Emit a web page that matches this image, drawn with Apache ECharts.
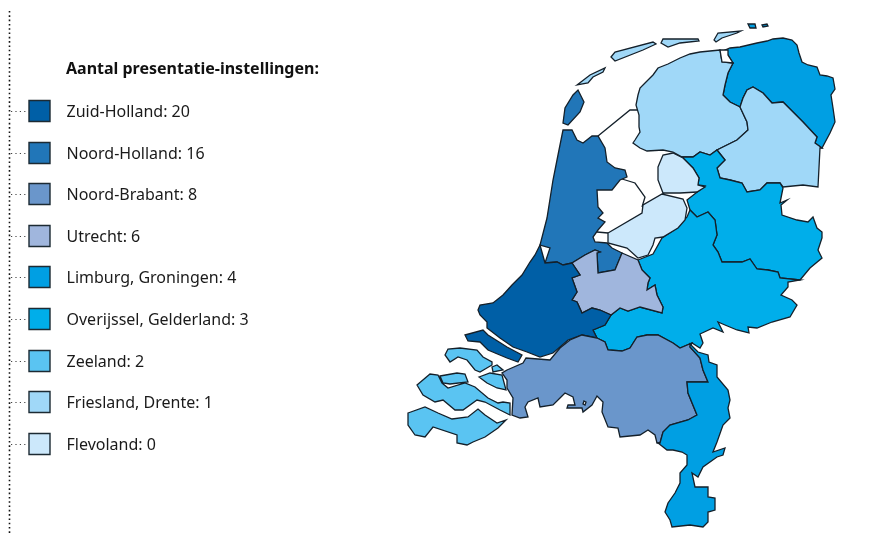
<!DOCTYPE html>
<html>
<head>
<meta charset="utf-8">
<style>
  html, body { margin: 0; padding: 0; background: #fff; }
  #chart { width: 875px; height: 535px; }
</style>
<script src="https://cdn.jsdelivr.net/npm/echarts@6/dist/echarts.min.js"></script>
</head>
<body>
<div id="chart"></div>
<script>
// aantal presentatie-instellingen per provincie
const provinces = ['Zuid-Holland', 'Noord-Holland', 'Noord-Brabant', 'Utrecht', 'Limburg', 'Groningen', 'Overijssel', 'Gelderland', 'Zeeland', 'Friesland', 'Drente', 'Flevoland'];
const counts = [20, 16, 8, 6, 4, 4, 3, 3, 2, 1, 1, 0];

// legenda
const legendNames = ['Zuid-Holland', 'Noord-Holland', 'Noord-Brabant', 'Utrecht', 'Limburg, Groningen', 'Overijssel, Gelderland', 'Zeeland', 'Friesland, Drente', 'Flevoland'];
const legendValues = [20, 16, 8, 6, 4, 3, 2, 1, 0];
const legendColors = ['#005fa6', '#2176b8', '#6a96cb', '#a0b6dd', '#009fe3', '#00aeea', '#5ac4f2', '#a0d8f8', '#cce8fb'];

// provincie-omtrekken, met de hand overgetrokken (eigen coordinaten, y loopt omlaag)
const outlines = {
  'Groningen': [
    [[725,50],[730,48],[740,47],[757,43],[767,41],[773,39],[783,38],[792,40],[797,45],[799,53],[802,62],[808,65],[817,67],[820,75],[827,76],[833,78],[835,89],[831,95],[833,108],[835,122],[830,133],[822,148],[815,143],[817,137],[803,122],[783,102],[772,103],[763,93],[753,87],[747,90],[743,98],[740,107],[730,102],[723,95],[725,85],[728,73],[733,63],[728,55]],
    [[762,25],[767,24],[768,26],[763,27]],
    [[748,24],[755,24],[756,28],[750,28]]
  ],
  'Friesland': [
    [[720,50],[710,51],[700,52],[690,54],[680,58],[668,64],[658,68],[653,75],[646,82],[640,88],[638,95],[636,105],[639,115],[639,127],[640,132],[635,140],[633,143],[640,148],[647,151],[663,150],[673,152],[682,157],[693,157],[700,152],[710,155],[717,150],[737,140],[748,130],[747,122],[740,107],[730,102],[723,95],[725,85],[728,73],[733,63],[722,62]],
    [[577,85],[590,75],[605,68],[603,72],[593,77],[588,83]],
    [[611,57],[615,52],[653,42],[656,44],[643,50],[615,61]],
    [[661,43],[663,39],[698,39],[699,41],[680,43],[668,47]],
    [[714,40],[718,33],[741,31],[737,33],[722,38],[716,42]]
  ],
  'Drente': [
    [[753,87],[763,93],[772,103],[783,102],[803,122],[817,137],[815,143],[822,148],[820,148],[818,187],[803,185],[783,187],[780,183],[767,183],[760,190],[747,192],[742,183],[730,180],[720,178],[717,168],[725,160],[717,150],[737,140],[748,130],[747,122],[740,107],[743,98],[747,90]]
  ],
  'Overijssel': [
    [[682,157],[693,157],[700,152],[710,155],[717,150],[725,160],[717,168],[720,178],[730,180],[742,183],[747,192],[760,190],[767,183],[780,183],[783,188],[780,203],[787,200],[781,205],[782,215],[797,220],[808,222],[813,217],[817,228],[822,232],[822,238],[818,250],[822,258],[810,268],[800,280],[780,278],[778,272],[768,270],[757,269],[750,259],[742,262],[722,262],[718,252],[713,245],[717,235],[715,220],[708,212],[697,217],[690,210],[687,200],[705,186],[698,185],[699,178],[693,168]]
  ],
  'Gelderland': [
    [[690,210],[697,217],[708,212],[715,220],[717,235],[713,245],[718,252],[722,262],[742,262],[750,259],[757,269],[768,270],[778,272],[780,278],[800,280],[788,282],[788,287],[781,295],[792,300],[797,305],[790,317],[772,322],[757,328],[748,327],[749,333],[737,330],[725,325],[718,322],[723,332],[713,328],[700,334],[703,343],[700,348],[692,343],[680,348],[673,343],[658,335],[647,335],[637,337],[630,348],[622,351],[608,350],[605,342],[597,338],[593,330],[605,325],[611,315],[620,308],[628,311],[640,307],[662,313],[663,307],[657,295],[655,285],[647,290],[648,283],[650,278],[642,270],[638,260],[653,254],[662,238],[677,228],[687,217]]
  ],
  'Flevoland': [
    [[658,167],[663,155],[673,153],[683,158],[693,168],[699,178],[698,185],[705,187],[697,192],[680,193],[663,193],[658,180]],
    [[608,233],[642,213],[643,205],[662,194],[683,199],[687,208],[685,220],[678,228],[663,237],[655,238],[653,245],[648,255],[638,258],[627,248],[608,243]]
  ],
  'Noord-Holland': [
    [[563,130],[572,130],[577,140],[583,143],[592,136],[598,136],[605,148],[607,162],[615,168],[625,170],[627,177],[620,180],[612,190],[597,190],[598,207],[603,213],[598,218],[605,222],[598,230],[593,237],[595,242],[607,243],[612,248],[622,253],[615,270],[598,273],[597,253],[600,252],[595,250],[585,255],[572,263],[563,265],[557,262],[545,263],[550,248],[540,245],[547,218],[553,180],[558,155]],
    [[578,90],[584,102],[580,112],[568,125],[563,123],[565,108],[573,95]]
  ],
  'Utrecht': [
    [[622,253],[638,260],[642,270],[650,278],[648,283],[647,290],[655,285],[657,295],[663,307],[662,313],[640,307],[628,311],[620,308],[611,315],[600,310],[592,308],[582,313],[577,302],[572,300],[577,292],[572,278],[580,275],[572,263],[585,255],[595,250],[600,252],[597,253],[598,273],[615,270]]
  ],
  'Zuid-Holland': [
    [[540,245],[545,263],[557,262],[563,265],[572,263],[580,275],[572,278],[577,292],[572,300],[577,302],[582,313],[592,308],[600,310],[611,315],[605,325],[593,330],[597,338],[582,335],[568,340],[560,347],[553,353],[540,357],[527,352],[513,347],[500,338],[487,328],[487,322],[480,315],[478,310],[480,305],[493,303],[503,295],[512,285],[522,275],[530,262],[535,255]],
    [[465,335],[483,330],[488,335],[507,347],[522,355],[518,362],[507,358],[488,350],[480,342],[468,341]]
  ],
  'Noord-Brabant': [
    [[507,370],[523,363],[526,358],[538,359],[550,360],[560,348],[570,340],[582,335],[597,338],[605,342],[608,350],[622,351],[630,348],[637,337],[647,335],[658,335],[673,343],[680,348],[692,343],[690,347],[700,358],[703,370],[708,382],[687,382],[688,393],[697,415],[688,420],[670,425],[663,432],[660,443],[657,443],[655,435],[648,430],[640,435],[620,437],[618,428],[608,427],[602,412],[603,402],[597,396],[592,405],[583,412],[582,408],[567,408],[568,405],[575,405],[573,397],[565,393],[560,398],[553,405],[540,407],[538,398],[528,402],[525,407],[528,417],[520,418],[512,415],[513,398],[507,388],[507,380],[502,373]]
  ],
  'Limburg': [
    [[690,344],[698,352],[708,355],[709,362],[717,365],[717,377],[728,390],[730,400],[728,408],[730,418],[723,425],[717,442],[713,452],[725,448],[723,455],[717,457],[703,467],[698,477],[692,473],[695,487],[708,487],[708,497],[715,498],[715,510],[708,512],[708,522],[703,527],[690,525],[672,527],[670,520],[665,512],[668,503],[675,493],[680,483],[680,473],[687,465],[687,455],[682,452],[673,450],[667,450],[658,443],[660,443],[663,432],[670,425],[688,420],[697,415],[688,393],[687,382],[708,382],[703,370],[700,358],[690,347]]
  ],
  'Zeeland': [
    [[445,355],[448,349],[460,348],[477,350],[483,357],[492,362],[492,365],[480,372],[475,370],[467,360],[458,357],[450,362]],
    [[492,367],[497,365],[503,370],[493,372]],
    [[440,376],[457,373],[465,374],[468,382],[450,384],[443,383]],
    [[417,385],[430,374],[438,375],[442,383],[448,388],[465,383],[475,387],[488,398],[498,403],[503,402],[510,403],[510,415],[500,410],[485,402],[477,400],[463,410],[455,410],[443,400],[435,402],[423,395]],
    [[479,377],[490,373],[502,375],[506,390],[497,388],[487,383]],
    [[408,413],[425,407],[438,413],[452,419],[468,417],[478,409],[485,415],[497,423],[506,420],[498,428],[485,437],[473,442],[467,445],[457,443],[457,435],[433,427],[425,437],[415,435],[408,425]]
  ],
  // dijken en water, zonder waarde
  'Afsluitdijk': [[[598,136],[630,110],[637,110],[630,110]]],
  'Houtribdijk': [[[622,179],[635,183],[645,197],[642,207],[645,197],[635,183]]],
  'Markermeer': [[[597,232],[608,233]]],
  'Lauwersmeer': [[[720,50],[728,50],[728,55],[733,63],[722,62]]],
  'Maas': [[[584,401],[586,402],[585,405],[583,404]]]
};

const allPoints = Object.values(outlines).flat(2);
const xs = allPoints.map(p => p[0]);
const ys = allPoints.map(p => p[1]);
const minX = Math.min(...xs), maxX = Math.max(...xs);
const minY = Math.min(...ys), maxY = Math.max(...ys);

echarts.registerMap('nederland', {
  type: 'FeatureCollection',
  features: Object.keys(outlines).map(name => ({
    type: 'Feature',
    properties: { name: name },
    geometry: { type: 'MultiPolygon', coordinates: outlines[name].map(r => [r.concat([r[0]])]) }
  }))
});

const textFont = '"Noto Sans", sans-serif';
const rowTop = 111;
const rowStep = 41.6;

// stippellijnen, vakjes en teksten van de legenda
const legendGraphics = [{
  type: 'line',
  shape: { x1: 9.5, y1: 11, x2: 9.5, y2: 535 },
  style: { stroke: '#111', lineWidth: 1.6, lineDash: [1.6, 2.7] }
}];
legendNames.forEach((name, i) => {
  const y = Math.round(rowTop + i * rowStep);
  legendGraphics.push({
    type: 'line',
    shape: { x1: 11, y1: y + 0.5, x2: 28, y2: y + 0.5 },
    style: { stroke: '#444', lineWidth: 1, lineDash: [1.2, 3.2] }
  });
  legendGraphics.push({
    type: 'rect',
    shape: { x: 29, y: y - 10.5, width: 21, height: 21 },
    style: { fill: legendColors[i], stroke: '#1c2a33', lineWidth: 1.4 }
  });
  legendGraphics.push({
    type: 'text',
    x: 66.5,
    y: y + 1,
    style: {
      text: name + ': ' + legendValues[i],
      font: '16px ' + textFont,
      fill: '#1a1a1a',
      textVerticalAlign: 'middle'
    }
  });
});

const chart = echarts.init(document.getElementById('chart'));
chart.setOption({
  animation: false,
  title: {
    text: 'Aantal presentatie-instellingen:',
    left: 66,
    top: 61,
    padding: 0,
    textStyle: { fontFamily: textFont, fontSize: 16, fontWeight: 'bold', color: '#111' }
  },
  visualMap: {
    show: false,
    type: 'piecewise',
    seriesIndex: 0,
    pieces: legendValues.map((v, i) => ({ value: v, color: legendColors[i] }))
  },
  graphic: legendGraphics,
  series: [{
    type: 'map',
    map: 'nederland',
    silent: true,
    roam: false,
    projection: { project: p => p, unproject: p => p },
    left: minX,
    top: minY,
    width: maxX - minX,
    height: maxY - minY,
    label: { show: false },
    itemStyle: { areaColor: '#fff', borderColor: '#14202a', borderWidth: 1.3 },
    emphasis: { disabled: true },
    data: provinces.map((p, i) => ({ name: p, value: counts[i] }))
  }]
});
</script>
</body>
</html>
